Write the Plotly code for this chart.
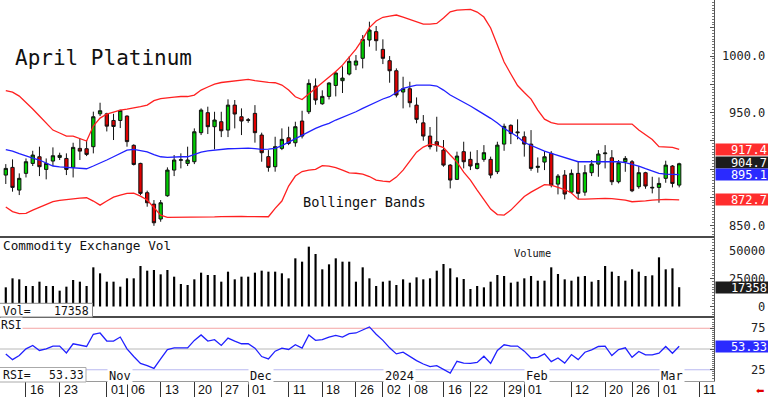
import plotly.graph_objects as go

# ---------------- data ----------------
dates = [
    "2023-10-11", "2023-10-12", "2023-10-13", "2023-10-16", "2023-10-17", "2023-10-18", "2023-10-19",
    "2023-10-20", "2023-10-23", "2023-10-24", "2023-10-25", "2023-10-26", "2023-10-27", "2023-10-30",
    "2023-10-31",
    "2023-11-01", "2023-11-02", "2023-11-03", "2023-11-06", "2023-11-07", "2023-11-08", "2023-11-09",
    "2023-11-10", "2023-11-13", "2023-11-14", "2023-11-15", "2023-11-16", "2023-11-17", "2023-11-20",
    "2023-11-21", "2023-11-22", "2023-11-24", "2023-11-27", "2023-11-28", "2023-11-29", "2023-11-30",
    "2023-12-01", "2023-12-04", "2023-12-05", "2023-12-06", "2023-12-07", "2023-12-08", "2023-12-11",
    "2023-12-12", "2023-12-13", "2023-12-14", "2023-12-15", "2023-12-18", "2023-12-19", "2023-12-20",
    "2023-12-21", "2023-12-22", "2023-12-26", "2023-12-27", "2023-12-28", "2023-12-29",
    "2024-01-02", "2024-01-03", "2024-01-04", "2024-01-05", "2024-01-08", "2024-01-09", "2024-01-10",
    "2024-01-11", "2024-01-12", "2024-01-16", "2024-01-17", "2024-01-18", "2024-01-19", "2024-01-22",
    "2024-01-23", "2024-01-24", "2024-01-25", "2024-01-26", "2024-01-29", "2024-01-30", "2024-01-31",
    "2024-02-01", "2024-02-02", "2024-02-05", "2024-02-06", "2024-02-07", "2024-02-08", "2024-02-09",
    "2024-02-12", "2024-02-13", "2024-02-14", "2024-02-15", "2024-02-16", "2024-02-20", "2024-02-21",
    "2024-02-22", "2024-02-23", "2024-02-26", "2024-02-27", "2024-02-28", "2024-02-29",
    "2024-03-01", "2024-03-04", "2024-03-05", "2024-03-06",
]

open_ = [894.7, 901.5, 881.4, 896.2, 905.0, 910.9, 899.7, 907.1, 910.3, 909.4,
         901.5, 918.3, 918.0, 919.8, 948.9, 948.9, 943.0, 943.0, 946.9, 921.0,
         905.0, 879.1, 869.0, 855.8, 876.4, 899.1, 907.8, 905.0, 906.5, 932.2,
         949.9, 937.5, 941.9, 934.5, 956.6, 946.3, 943.6, 949.3, 930.1, 911.0,
         902.1, 918.3, 927.7, 923.3, 942.5, 950.7, 973.5, 957.8, 964.3, 974.0,
         978.2, 984.1, 992.0, 998.0, 1014.2, 1021.6, 1005.9, 995.9, 987.0, 968.2,
         971.1, 956.6, 940.9, 929.2, 924.2, 916.8, 903.5, 890.9, 915.4, 908.6,
         900.6, 908.6, 908.6, 897.7, 922.1, 938.7, 932.9, 928.6, 922.1, 901.5,
         906.2, 913.9, 886.7, 894.7, 879.6, 896.2, 879.6, 896.8, 904.4, 913.6,
         910.0, 888.8, 906.5, 906.5, 884.4, 896.8, 883.2, 883.8, 891.8, 902.7,
         885.8]
high = [904.4, 908.6, 896.2, 909.4, 916.2, 919.8, 909.4, 919.2, 914.5, 913.9,
        923.3, 927.1, 925.7, 950.8, 958.7, 949.8, 948.9, 952.5, 947.5, 921.9,
        905.6, 880.9, 872.6, 872.6, 901.5, 912.4, 913.9, 919.8, 936.0, 953.7,
        955.2, 950.7, 950.7, 961.7, 961.1, 953.7, 945.2, 956.6, 932.2, 916.8,
        928.6, 936.0, 937.5, 941.9, 951.6, 979.4, 980.2, 969.7, 976.9, 986.4,
        990.9, 999.7, 1000.9, 1018.6, 1030.4, 1026.6, 1014.8, 1000.0, 989.1, 981.7,
        977.3, 963.4, 947.8, 937.2, 946.3, 925.7, 904.4, 915.4, 924.2, 915.4,
        916.8, 921.2, 911.0, 924.2, 940.2, 939.6, 944.0, 933.3, 934.5, 910.3,
        915.9, 915.9, 895.6, 899.1, 899.7, 906.5, 903.5, 908.0, 916.8, 921.2,
        916.8, 908.0, 911.5, 908.0, 902.7, 897.6, 893.2, 892.6, 907.4, 903.5,
        905.6]
low = [886.8, 880.0, 877.0, 892.6, 902.7, 893.8, 890.9, 902.7, 908.0, 894.7,
       892.6, 908.0, 911.5, 913.9, 946.9, 933.3, 925.7, 936.3, 919.8, 903.2,
       877.0, 866.7, 849.8, 853.4, 875.5, 893.8, 900.6, 902.7, 904.4, 930.1,
       931.0, 917.4, 928.3, 928.3, 936.0, 930.1, 941.0, 923.4, 906.5, 897.7,
       897.7, 916.8, 921.2, 919.8, 927.1, 948.7, 956.9, 956.9, 961.6, 964.3,
       967.3, 982.9, 987.6, 989.1, 1008.3, 1004.7, 992.9, 976.4, 963.4, 953.7,
       954.6, 940.5, 925.1, 917.4, 915.4, 902.1, 882.9, 890.3, 900.6, 899.1,
       899.7, 906.5, 891.8, 895.6, 916.2, 922.1, 926.3, 911.0, 898.5, 896.8,
       899.1, 883.8, 877.6, 873.2, 878.5, 873.2, 876.4, 893.8, 893.2, 900.6,
       885.8, 887.3, 897.6, 879.6, 882.6, 882.6, 878.5, 870.2, 887.9, 883.8,
       883.8]
close = [900.6, 883.8, 891.8, 906.5, 912.4, 902.1, 905.0, 911.8, 912.1, 899.7,
         919.2, 915.9, 913.0, 946.3, 951.6, 938.0, 937.7, 951.9, 924.3, 904.1,
         878.5, 870.2, 852.5, 870.2, 899.1, 908.0, 908.2, 908.0, 933.0, 952.2,
         937.5, 943.4, 933.9, 956.6, 948.7, 942.5, 943.2, 932.2, 914.5, 901.5,
         919.8, 926.3, 922.7, 937.5, 929.2, 975.8, 961.1, 964.3, 976.1, 985.0,
         980.5, 995.3, 995.6, 1014.8, 1023.0, 1013.6, 998.0, 987.0, 965.5, 971.1,
         958.7, 944.0, 929.2, 919.8, 921.2, 903.5, 890.3, 911.5, 906.5, 902.7,
         905.0, 914.5, 894.7, 921.2, 937.8, 931.4, 932.2, 922.1, 900.6, 902.4,
         910.9, 885.8, 893.8, 877.9, 896.2, 878.5, 896.8, 904.4, 913.3, 914.2,
         888.8, 905.6, 909.4, 880.8, 896.8, 885.0, 883.8, 887.3, 903.5, 887.3,
         904.7]

upper_band = [969.5, 968.1, 964.6, 959.3, 953.1, 946.9, 940.7, 934.5, 931.9, 929.2,
              929.2, 927.0, 924.8, 938.1, 945.1, 948.7, 950.4, 952.2, 953.1, 954.0,
              955.3, 956.6, 960.6, 962.4, 963.3, 963.7, 964.2, 964.2, 965.5, 969.9,
              972.6, 975.2, 976.6, 977.4, 978.3, 978.8, 979.4, 978.3, 977.3, 976.7,
              976.4, 974.3, 969.9, 964.0, 961.5, 966.4, 971.7, 977.0, 981.9, 986.3,
              992.0, 998.7, 1006.2, 1015.0, 1025.2, 1031.0, 1034.3, 1035.4, 1036.3, 1034.5,
              1032.5, 1030.1, 1028.3, 1028.3, 1028.9, 1033.6, 1039.2, 1040.7, 1041.3, 1041.3,
              1038.9, 1034.5, 1024.8, 1009.7, 994.7, 984.1, 973.9, 967.7, 961.9, 952.2,
              944.2, 941.2, 939.8, 939.8, 939.8, 939.8, 939.8, 940.1, 940.3, 940.4,
              940.4, 940.3, 940.1, 939.8, 934.5, 930.1, 926.1, 919.9, 919.5, 919.2,
              917.4]
middle_band = [917.3, 915.9, 913.7, 911.5, 909.7, 908.0, 905.3, 902.7, 902.0, 901.5,
               900.9, 900.3, 900.3, 902.7, 905.0, 908.0, 910.9, 914.2, 916.8, 917.4,
               916.4, 915.3, 912.8, 910.9, 910.4, 910.9, 910.9, 910.9, 912.8, 915.0,
               916.2, 917.0, 917.7, 918.0, 918.1, 918.4, 918.6, 918.1, 917.4, 917.7,
               918.3, 920.8, 923.9, 927.0, 930.1, 933.2, 936.0, 938.5, 940.5, 943.4,
               945.6, 947.8, 950.7, 953.7, 956.6, 959.6, 962.0, 964.0, 968.1, 971.4,
               973.0, 974.2, 974.3, 974.3, 973.5, 969.9, 965.5, 962.4, 959.6, 955.8,
               952.2, 948.7, 944.9, 940.7, 936.0, 932.3, 928.6, 923.5, 920.8, 918.3,
               915.9, 913.9, 911.9, 910.4, 908.4, 906.5, 906.5, 906.5, 906.5, 906.5,
               906.5, 906.5, 905.8, 904.4, 902.7, 900.4, 898.5, 896.2, 895.6, 895.4,
               895.1]
lower_band = [866.4, 862.4, 860.6, 860.8, 863.7, 866.4, 869.0, 871.2, 872.3, 873.2,
              873.7, 874.3, 874.6, 871.7, 868.1, 871.7, 875.2, 877.0, 878.5, 878.8,
              876.1, 872.6, 865.9, 859.3, 857.3, 857.3, 857.3, 857.3, 857.3, 857.4,
              857.5, 857.7, 858.0, 858.2, 858.4, 858.2, 858.0, 857.8, 857.8, 857.8,
              865.2, 871.7, 885.0, 893.8, 897.8, 899.1, 899.7, 903.1, 902.7, 901.3,
              899.1, 896.7, 896.3, 895.6, 893.4, 890.3, 889.4, 888.8, 892.9, 899.1,
              907.1, 915.0, 919.5, 922.1, 921.2, 919.0, 912.4, 906.2, 897.3, 890.3,
              881.4, 873.4, 864.6, 859.7, 859.3, 863.7, 869.9, 875.7, 879.6, 882.7,
              886.3, 885.8, 883.8, 881.9, 878.8, 873.4, 873.4, 873.7, 873.9, 874.0,
              873.9, 873.4, 872.6, 871.1, 871.2, 871.9, 872.6, 873.2, 873.2, 873.0,
              872.7]

volume = [17250, 25350, 24450, 18450, 18450, 22350, 18450, 18450, 14250, 17850,
          23850, 22350, 18450, 35250, 29850, 22350, 22350, 17850, 25350, 25350,
          36450, 32250, 32850, 28950, 32850, 26850, 20250, 19350, 24450, 30450,
          28350, 28350, 22350, 31350, 24450, 26850, 26850, 30450, 32250, 31350,
          31350, 29850, 25350, 43350, 40350, 53850, 47250, 33450, 37950, 43350,
          40350, 40350, 22350, 35250, 25350, 18450, 22350, 23250, 19350, 24450,
          21450, 26250, 24450, 25350, 32250, 38250, 34350, 26250, 24750, 15750,
          18450, 17250, 22350, 28350, 27450, 21450, 22350, 25350, 27450, 23250,
          23250, 35250, 29250, 24450, 23250, 26850, 27450, 22350, 23850, 36450,
          31350, 27450, 23250, 33450, 31350, 27450, 28050, 44250, 33450, 34350,
          17358]

rsi = [44.1, 37.2, 42.1, 50.2, 54.3, 48.2, 50.2, 53.5, 53.5, 45.3,
       56.3, 54.3, 53.0, 67.7, 69.3, 59.6, 59.6, 64.4, 50.2, 40.9,
       32.7, 29.9, 26.6, 38.0, 49.4, 51.4, 51.4, 51.4, 60.4, 66.9,
       59.6, 61.2, 54.3, 63.2, 59.6, 56.3, 56.3, 51.0, 40.9, 38.0,
       47.4, 51.0, 49.4, 55.1, 51.0, 66.9, 60.4, 61.2, 64.4, 66.5,
       64.4, 68.5, 69.3, 73.4, 76.6, 67.7, 60.4, 51.4, 44.1, 46.1,
       40.9, 36.0, 31.9, 28.7, 29.9, 25.8, 20.9, 35.2, 33.1, 32.7,
       33.9, 41.3, 32.7, 48.2, 55.1, 53.5, 53.5, 47.4, 39.2, 40.0,
       44.1, 34.8, 39.2, 33.1, 43.3, 37.2, 46.1, 49.0, 53.0, 53.5,
       42.1, 49.4, 51.4, 40.0, 47.0, 42.9, 42.9, 44.9, 53.0, 44.9,
       53.33]

# date-axis ticks (trading-day index) and labels
tick_idx = [3, 8, 15, 18, 23, 28, 32, 36, 42, 47, 52, 56, 60, 65, 69, 74, 77, 84, 89, 93, 97, 103]
tick_text = ["16", "23", "01", "06", "13", "20", "27", "01", "11", "18", "26",
             "02", "08", "16", "22", "29", "01", "12", "20", "26", "01", "11"]
month_idx = [15, 36, 56, 77, 97]
month_text = ["Nov", "Dec", "2024", "Feb", "Mar"]

price_ticks = [1000, 950, 850]
volume_ticks = [50000, 25000, 0]
rsi_ticks = [75, 25]
rsi_levels = [75, 50, 25]

# ---------------- layout geometry ----------------
W, H = 768, 397
MR, MB = 54, 16
PW, PH = W - MR, H - MB          # plot area 714 x 381
MONO = "DejaVu Sans Mono"
SANS = "Liberation Sans"


def pxx(x):
    return x / PW


def pxy(y):
    return (PH - y) / PH


xi = list(range(len(dates)))

fig = go.Figure()

# Bollinger bands
fig.add_trace(go.Scatter(x=xi, y=upper_band, mode="lines", line=dict(color="#ff2020", width=1.3),
                         yaxis="y", hoverinfo="skip"))
fig.add_trace(go.Scatter(x=xi, y=lower_band, mode="lines", line=dict(color="#ff2020", width=1.3),
                         yaxis="y", hoverinfo="skip"))
fig.add_trace(go.Scatter(x=xi, y=middle_band, mode="lines", line=dict(color="#2020ff", width=1.3),
                         yaxis="y", hoverinfo="skip"))

# candles
fig.add_trace(go.Candlestick(
    x=xi, open=open_, high=high, low=low, close=close, yaxis="y",
    increasing=dict(fillcolor="#00cc00", line=dict(color="#111111", width=1)),
    decreasing=dict(fillcolor="#e00000", line=dict(color="#111111", width=1)),
    whiskerwidth=0, hoverinfo="skip"))

# volume
fig.add_trace(go.Bar(x=xi, y=volume, yaxis="y2", width=0.32,
                     marker=dict(color="#000000", line=dict(width=0)), hoverinfo="skip"))

# RSI
fig.add_trace(go.Scatter(x=xi, y=rsi, mode="lines", line=dict(color="#2020ff", width=1.3),
                         yaxis="y3", hoverinfo="skip"))

shapes = []
# RSI reference levels
for lvl, col in zip(rsi_levels, ["#f4a4a4", "#b8b8b8", "#b8b8f0"]):
    shapes.append(dict(type="line", xref="paper", yref="y3", x0=0, x1=1, y0=lvl, y1=lvl,
                       line=dict(color=col, width=1), layer="below"))
# panel separators
for ysep in [237, 317]:
    shapes.append(dict(type="line", xref="paper", yref="paper", x0=0, x1=1,
                       y0=pxy(ysep), y1=pxy(ysep), line=dict(color="#4a4a4a", width=2)))
# read-out boxes
shapes.append(dict(type="rect", xref="paper", yref="paper", x0=pxx(-1), x1=pxx(92.5),
                   y0=pxy(317), y1=pxy(303.3), fillcolor="white",
                   line=dict(color="#8a8a8a", width=1), layer="above"))
shapes.append(dict(type="rect", xref="paper", yref="paper", x0=pxx(-1), x1=pxx(86),
                   y0=pxy(382), y1=pxy(367.5), fillcolor="white",
                   line=dict(color="#aaaaaa", width=1), layer="above"))

ann = []


def text(t, x, y, size, xanchor="left", color="#111111", family=MONO, xref="paper", yref="paper",
         bg=None, **kw):
    d = dict(text=t, x=x, y=y, xref=xref, yref=yref, xanchor=xanchor, yanchor="middle",
             showarrow=False, font=dict(family=family, size=size, color=color))
    if bg:
        d["bgcolor"] = bg
    d.update(kw)
    ann.append(d)


text("April Platinum", pxx(12.5), pxy(58), 21)
text("Bollinger Bands", pxx(300.5), pxy(202), 13.6)
text("Commodity Exchange Vol", pxx(1), pxy(245), 12.7)
text("Volume", pxx(512), pxy(253), 10.3)
text("Vol=", pxx(0.5), pxy(310.5), 11.5)
text(f"{volume[-1]}", pxx(91.5), pxy(310.5), 11.5, xanchor="right")
text("RSI", pxx(0), pxy(325), 11.5, bg="white", borderpad=0)
text("RSI=", pxx(0.5), pxy(375), 11.5)
text(f"{rsi[-1]:.2f}", pxx(85.5), pxy(375), 11.5, xanchor="right")

for i, t in zip(month_idx, month_text):
    text(t, i, pxy(376), 12, xref="x", bg="white", borderpad=1, xshift=0)
for i, t in zip(tick_idx, tick_text):
    text(t, i, pxy(389.5), 12.5, xref="x", family=SANS, xshift=2)

# right-hand scale labels
RX = pxx(766.5)
for v in price_ticks:
    text(f"{v:.1f}", RX, v, 12, xanchor="right", yref="y", color="#222222")
for v in volume_ticks:
    text(f"{v}", RX, v, 12, xanchor="right", yref="y2", color="#222222")
for v in rsi_ticks:
    text(f"{v}", RX, v, 12, xanchor="right", yref="y3", color="#222222")


def box(t, yval, yref, col, yshift=0):
    ann.append(dict(text=t, x=pxx(715), y=yval, xref="paper", yref=yref, xanchor="left",
                    yanchor="middle", showarrow=False, width=50, height=9, align="right",
                    bgcolor=col, borderpad=1, yshift=yshift,
                    font=dict(family=MONO, size=12, color="white")))


box(f"{upper_band[-1]:.1f}", upper_band[-1], "y", "#ff2d2d")
box(f"{close[-1]:.1f}", close[-1], "y", "#1c1c1c", yshift=1)
box(f"{middle_band[-1]:.1f}", middle_band[-1], "y", "#2a2aff")
box(f"{lower_band[-1]:.1f}", lower_band[-1], "y", "#ff2d2d")
box(f"{volume[-1]}", volume[-1], "y2", "#1c1c1c")
box(f"{rsi[-1]:.2f}", rsi[-1], "y3", "#2a2aff")

text("\u2b05", pxx(765.5), pxy(390), 10, xanchor="right", family="DejaVu Sans", color="#e00000")

yax_common = dict(side="right", anchor="x", showline=True, linecolor="#555555", linewidth=1,
                  ticks="inside", tickcolor="#555555", ticklen=4, showticklabels=False,
                  showgrid=False, zeroline=False, fixedrange=True)

fig.update_layout(
    width=W, height=H, autosize=False,
    margin=dict(l=0, r=MR, t=0, b=MB, pad=0),
    paper_bgcolor="white", plot_bgcolor="white",
    showlegend=False, hovermode=False,
    xaxis=dict(domain=[0, 1], anchor="y3", range=[-0.86, 105.17],
               rangeslider=dict(visible=False), showgrid=False, zeroline=False,
               tickmode="array", tickvals=tick_idx, ticktext=tick_text, showticklabels=False,
               ticks="outside", ticklen=16, tickcolor="#333333", tickwidth=1,
               showline=True, linecolor="#9a9a9a", linewidth=1, fixedrange=True),
    yaxis=dict(domain=[pxy(237), 1], range=[839.9, 1049.6], dtick=25, tick0=0,
               minor=dict(ticks="inside", ticklen=2, dtick=2.5, tickcolor="#777777"),
               **yax_common),
    yaxis2=dict(domain=[pxy(317), pxy(237)], range=[-9450, 62550], dtick=25000, tick0=0,
                minor=dict(ticks="inside", ticklen=2, dtick=2500, tickcolor="#777777"),
                **yax_common),
    yaxis3=dict(domain=[0, pxy(317)], range=[11.45, 88.55], dtick=25, tick0=0,
                minor=dict(ticks="inside", ticklen=2, dtick=2.5, tickcolor="#777777"),
                **yax_common),
    shapes=shapes,
    annotations=ann,
    boxgap=0.3,
)

fig.write_html("out.html", config={"displayModeBar": False, "staticPlot": True},
               post_script="document.body.style.margin='0';document.body.style.overflow='hidden';")
